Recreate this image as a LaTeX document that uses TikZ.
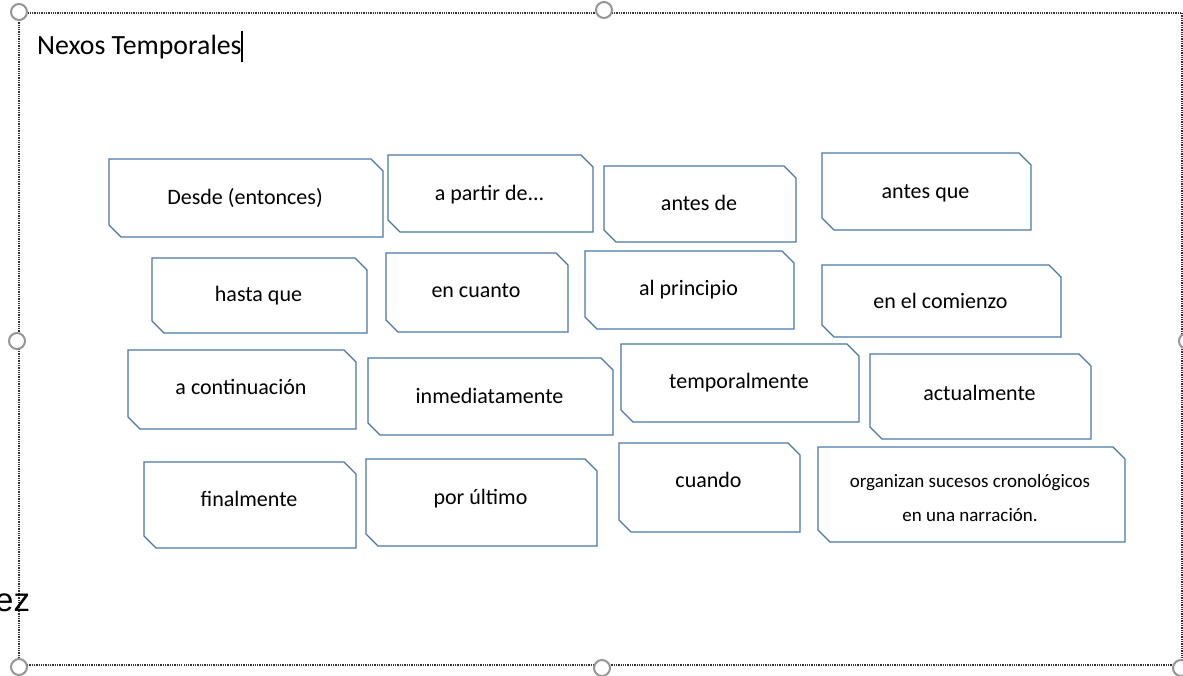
\documentclass[tikz,border=0pt]{standalone}
\usepackage{fontspec}
\setmainfont{Carlito}
\newfontfamily\arialfont{Liberation Sans}
\usepackage{tikz}

\definecolor{nexoazul}{RGB}{72,120,170}
\definecolor{asagris}{RGB}{150,150,150}

\tikzset{
  nexo/.style={draw=nexoazul, line width=1.3pt, line join=miter},
  nexotexto/.style={font=\fontsize{22}{26}\selectfont, text height=11pt, text depth=4pt, inner sep=0pt},
  marco/.style={draw=black!80, line width=1.3pt, densely dotted},
  asa/.style={draw=asagris, fill=white, line width=2pt}
}

\begin{document}
\begin{tikzpicture}[x=1pt, y=-1pt]
        \useasboundingbox (0,0) rectangle (1183,675);

        % marco del cuadro de texto
        \draw[marco] (19,13) rectangle (1182,665);
        \foreach \hx/\hy in {19/12, 604/10, 17/341, 1187/341, 19/667, 602/668, 1181/668}
            \draw[asa] (\hx,\hy) circle[radius=8pt];

        \node[anchor=base west, inner sep=0pt, font=\fontsize{27.8}{30}\selectfont] (titulo) at (37,54) {Nexos Temporales};
        \draw[line width=1.2pt] (242,31) -- (242,62);
        \node[anchor=base west, inner sep=0pt, font=\arialfont\fontsize{33}{36}\selectfont] (resto) at (-5,611) {ez};

        % nexos
        \foreach \nombre/\xa/\ya/\xb/\yb/\dy/\texto in {
            desde/109/159/383/237/-1/{Desde (entonces)},
            apartir/388/155/593/232/0/{a partir de...},
            antesde/604/166/796/242/-1/{antes de},
            antesque/822/153/1031/230/0/{antes que},
            hastaque/152/258/367/333/-1/{hasta que},
            encuanto/386/253/568/332/-2/{en cuanto},
            principio/585/251/794/329/-2/{al principio},
            comienzo/822/265/1061/337/0/{en el comienzo},
            continuacion/128/350/356/429/-2/{a continuación},
            inmediatamente/368/358/613/435/0/{inmediatamente},
            temporalmente/621/344/859/422/-2/{temporalmente},
            actualmente/870/354/1091/439/-3/{actualmente},
            finalmente/144/462/356/548/-6/{finalmente},
            porultimo/366/459/597/546/-5/{por último},
            cuando/619/443/800/532/-7/{cuando}}
        {
            \draw[nexo] (\xa,\ya) -- ({\xb-12},\ya) -- (\xb,{\ya+12}) -- (\xb,\yb)
                -- ({\xa+12},\yb) -- (\xa,{\yb-12}) -- cycle;
            \node[nexotexto] (\nombre) at ({(\xa+\xb)/2-1},{(\ya+\yb)/2+\dy+3.5}) {\texto};
        }

        \draw[nexo] (818,447) -- (1113,447) -- (1125,459) -- (1125,542) -- (830,542) -- (818,530) -- cycle;
        \node[nexotexto, font=\fontsize{19}{34}\selectfont, align=center] (organizan) at (970,518)
            {organizan sucesos cronológicos\\en una narración.};
      \end{tikzpicture}
\end{document}
